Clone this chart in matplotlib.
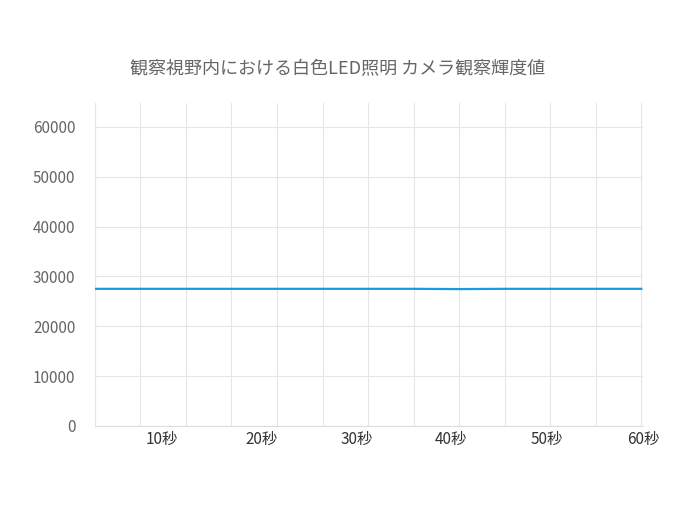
import matplotlib
matplotlib.use("Agg")
import matplotlib.pyplot as plt

plt.rcParams['font.family'] = ['Noto Sans CJK JP', 'DejaVu Sans']

seconds = [0, 5, 10, 15, 20, 25, 30, 35, 40, 45, 50, 55, 60]
luminance = [27500, 27500, 27500, 27500, 27500, 27500, 27500, 27500, 27450, 27500, 27500, 27500, 27500]
label_pos = [7.3, 18.3, 28.7, 39.1, 49.6, 60.2]
labels = ['10秒', '20秒', '30秒', '40秒', '50秒', '60秒']
yticks = [0, 10000, 20000, 30000, 40000, 50000, 60000]

fig = plt.figure(figsize=(6.82, 5.2), dpi=100)
ax = fig.add_axes([0.139, 0.181, 0.804, 0.621])
ax.plot(seconds, luminance, color='#1a9be0', lw=1.6, zorder=3)

ax.set_xlim(0, 60)
ax.set_ylim(0, 64800)
ax.set_yticks(yticks)
ax.set_xticks(label_pos)
ax.set_xticklabels(labels)
ax.set_xticks(seconds, minor=True)
ax.grid(False)
ax.grid(True, which='minor', axis='x', color='#e6e6e6', lw=0.8)
ax.grid(True, which='major', axis='y', color='#e6e6e6', lw=0.8)
ax.tick_params(axis='both', which='both', length=0)
ax.tick_params(axis='x', labelsize=11, colors='#333333', pad=4)
ax.tick_params(axis='y', labelsize=11, colors='#666666', pad=14)
for s in ['top', 'right']:
    ax.spines[s].set_visible(False)
ax.spines['left'].set_color('#e6e6e6')
ax.spines['bottom'].set_color('#dddddd')

fig.text(0.495, 0.868, '観察視野内における白色LED照明 カメラ観察輝度値', ha='center', va='center',
         fontsize=13, color='#666666')

fig.savefig('out.png', dpi=100)
